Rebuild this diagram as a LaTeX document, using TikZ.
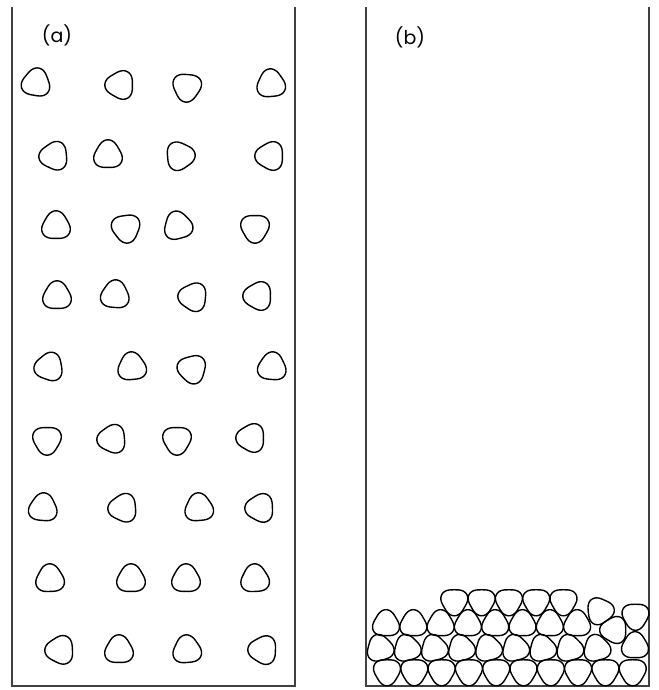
\documentclass[tikz,border=0pt]{standalone}
\usepackage{fontspec}
\setmainfont{Poppins}
\usepackage{tikz}

\begin{document}
\begin{tikzpicture}[x=1pt, y=1pt,
    wall/.style={draw=black!75, line width=1.3pt},
    grain/.style={draw=black, line width=1.4pt},
    label/.style={font=\fontsize{19}{22}\selectfont}]
      % 1. 畫布大小
      \useasboundingbox (0,0) rectangle (658,690);

      % 2. 兩個容器 (上方開口)
      \draw[wall] (12,683) -- (12,4) -- (295,4) -- (295,683);
      \draw[wall] (366,683) -- (366,4) -- (649,4) -- (649,683);

      % 3. 標籤
      \node[label] (lab_a) at (57,655) {(a)};
      \node[label] (lab_b) at (410,653) {(b)};

      % 4. (a) 落下前的顆粒：x / y / 轉角
      \foreach \gx/\gy/\ga in {36/607/80, 120/605/60, 187/603/25, 271/606/95,
                              54/534/65, 108/535/90, 180/534/5, 270/534/60,
                              56/464/90, 126/462/38, 178/464/105, 255/462/30,
                              57/394/90, 115/395/85, 193/393/55, 258/394/60,
                              49/323/70, 132/323/95, 192/321/45, 272/323/85,
                              47/250/30, 112/251/65, 177/250/30, 251/252/60,
                              43/182/85, 123/182/65, 199/182/95, 260/182/62,
                              50/111/92, 131/111/90, 186/111/90, 255/111/93,
                              60/40/63, 119/40/90, 187/40/95, 263/40/58}
        \draw[grain, shift={(\gx,\gy)}] plot[domain=0:354, samples=60, smooth cycle, variable=\t]
          ({\ga+\t}:{13.8*(1+0.1*cos(3*\t))});

      % 5. (b) 堆積後的顆粒 (由下而上四層)
      \foreach \gx/\gy/\ga in {387/18.5/30, 414.3/18.5/30, 441.6/18.5/30, 468.9/18.5/30, 496.2/18.5/30,
                              523.5/18.5/30, 550.8/18.5/30, 578.1/18.5/30, 605.4/18.5/30, 632.7/18.5/30,
                              380/41.5/105, 407.1/41.5/105, 434.2/41.5/105, 461.3/41.5/105, 488.4/41.5/105,
                              515.5/41.5/105, 542.6/41.5/105, 569.7/41.5/105, 596.8/41.5/105, 635/44/90,
                              386/66/90, 413.3/66/90, 440.6/66/90, 467.9/66/90, 495.2/66/90,
                              522.5/66/90, 549.8/66/90, 577.1/66/90, 614/60/60,
                              454.3/88.5/30, 481.6/88.5/30, 508.9/88.5/30, 536.2/88.5/30, 563.5/88.5/30,
                              600/79/6, 635.5/74/30}
        \draw[grain, shift={(\gx,\gy)}] plot[domain=0:354, samples=60, smooth cycle, variable=\t]
          ({\ga+\t}:{13*(1+0.1*cos(3*\t))});
\end{tikzpicture}
\end{document}
